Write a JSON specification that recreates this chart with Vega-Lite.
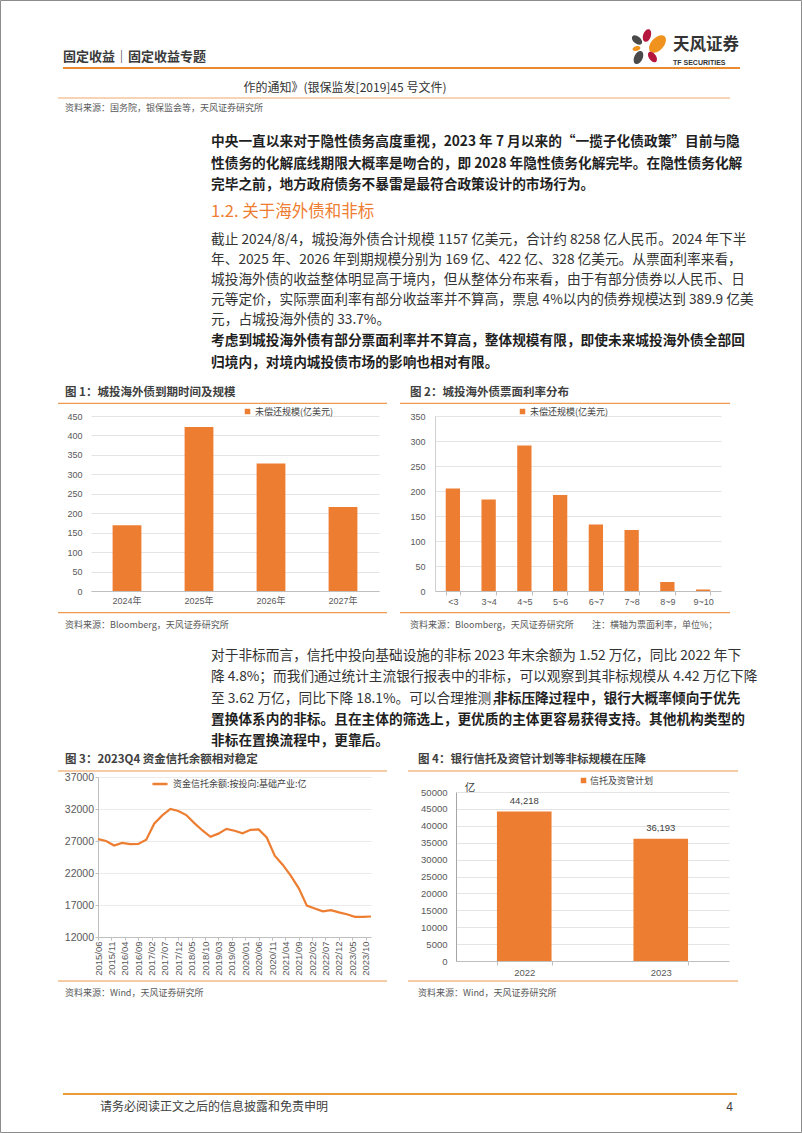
{
  "$schema": "https://vega.github.io/schema/vega-lite/v6.json",
  "background": "white",
  "padding": 0,
  "autosize": {"type": "pad"},
  "columns": 2,
  "align": "none",
  "bounds": "flush",
  "spacing": {"row": 186, "column": 56},
  "resolve": {"scale": {"color": "independent"}, "legend": {"color": "independent"}},
  "config": {
    "view": {"stroke": null},
    "font": "Noto Sans CJK SC",
    "axis": {"labelFont": "Liberation Sans, Noto Sans CJK SC", "labelColor": "#595959", "labelFontSize": 9, "gridColor": "#E4E4E4", "domainColor": "#BFBFBF", "tickColor": "#BFBFBF", "labelOverlap": false},
    "legend": {"labelFont": "Noto Sans CJK SC", "labelColor": "#404040", "labelFontSize": 9, "padding": 0}
  },
  "datasets": {
    "maturity": [
      {"year": "2024年", "amount": 169},
      {"year": "2025年", "amount": 422},
      {"year": "2026年", "amount": 328},
      {"year": "2027年", "amount": 216}
    ],
    "coupon": [
      {"rate": "<3", "amount": 205},
      {"rate": "3~4", "amount": 183},
      {"rate": "4~5", "amount": 291},
      {"rate": "5~6", "amount": 192},
      {"rate": "6~7", "amount": 133},
      {"rate": "7~8", "amount": 122},
      {"rate": "8~9", "amount": 18},
      {"rate": "9~10", "amount": 3}
    ],
    "trust": [
      {"date": "2015-06-01", "value": 27300},
      {"date": "2015-09-01", "value": 27000},
      {"date": "2015-12-01", "value": 26300},
      {"date": "2016-03-01", "value": 26700},
      {"date": "2016-06-01", "value": 26500},
      {"date": "2016-09-01", "value": 26550},
      {"date": "2016-12-01", "value": 27200},
      {"date": "2017-03-01", "value": 29700},
      {"date": "2017-06-01", "value": 31000},
      {"date": "2017-09-01", "value": 32000},
      {"date": "2017-12-01", "value": 31700},
      {"date": "2018-03-01", "value": 31050},
      {"date": "2018-06-01", "value": 29800},
      {"date": "2018-09-01", "value": 28650},
      {"date": "2018-12-01", "value": 27650},
      {"date": "2019-03-01", "value": 28150},
      {"date": "2019-06-01", "value": 28900},
      {"date": "2019-09-01", "value": 28600},
      {"date": "2019-12-01", "value": 28200},
      {"date": "2020-03-01", "value": 28750},
      {"date": "2020-06-01", "value": 28800},
      {"date": "2020-09-01", "value": 27550},
      {"date": "2020-12-01", "value": 24700},
      {"date": "2021-03-01", "value": 23300},
      {"date": "2021-06-01", "value": 21600},
      {"date": "2021-09-01", "value": 19600},
      {"date": "2021-12-01", "value": 16900},
      {"date": "2022-03-01", "value": 16450},
      {"date": "2022-06-01", "value": 16000},
      {"date": "2022-09-01", "value": 16200},
      {"date": "2022-12-01", "value": 15850},
      {"date": "2023-03-01", "value": 15550},
      {"date": "2023-06-01", "value": 15150},
      {"date": "2023-09-01", "value": 15150},
      {"date": "2023-12-01", "value": 15200}
    ],
    "nonstd": [
      {"year": "2022", "amount": 44218},
      {"year": "2023", "amount": 36193}
    ]
  },
  "concat": [
    {
      "width": 288,
      "height": 175,
      "layer": [
        {"data": {"values": [{}]}, "mark": {"type": "rect", "fill": "transparent", "stroke": "#8c8c8c", "strokeWidth": 1}, "encoding": {"x": {"value": -90.5}, "x2": {"value": 710.5}, "y": {"value": -415.5}, "y2": {"value": 716.5}}},
        {"data": {"values": [{}]}, "mark": {"type": "text", "text": "固定收益｜固定收益专题", "align": "left", "baseline": "middle", "fontSize": 13, "fontWeight": "bold", "color": "#3a3a3a"}, "encoding": {"x": {"value": -28}, "y": {"value": -359}}},
        {"data": {"values": [{}]}, "mark": {"type": "rule", "color": "#EC8A2F", "strokeWidth": 2}, "encoding": {"x": {"value": -28}, "x2": {"value": 649}, "y": {"value": -348}}},
        {"data": {"values": [{}]}, "mark": {"type": "point", "shape": "M-1,0A1,0.6,0,1,1,1,0A1,0.6,0,1,1,-1,0Z", "filled": true, "color": "#B5163D", "opacity": 1, "size": 169, "angle": -72}, "encoding": {"x": {"value": 556}, "y": {"value": -380.5}}},
        {"data": {"values": [{}]}, "mark": {"type": "point", "shape": "M-1,0A1,0.6,0,1,1,1,0A1,0.6,0,1,1,-1,0Z", "filled": true, "color": "#4A4A4A", "opacity": 1, "size": 144, "angle": 40}, "encoding": {"x": {"value": 546}, "y": {"value": -376}}},
        {"data": {"values": [{}]}, "mark": {"type": "point", "shape": "M-1,0A1,0.6,0,1,1,1,0A1,0.6,0,1,1,-1,0Z", "filled": true, "color": "#F0931E", "opacity": 1, "size": 441, "angle": -48}, "encoding": {"x": {"value": 566.5}, "y": {"value": -372}}},
        {"data": {"values": [{}]}, "mark": {"type": "point", "shape": "M-1,0A1,0.6,0,1,1,1,0A1,0.6,0,1,1,-1,0Z", "filled": true, "color": "#F0931E", "opacity": 1, "size": 64, "angle": -15}, "encoding": {"x": {"value": 545.5}, "y": {"value": -367.5}}},
        {"data": {"values": [{}]}, "mark": {"type": "point", "shape": "M-1,0A1,0.6,0,1,1,1,0A1,0.6,0,1,1,-1,0Z", "filled": true, "color": "#B5163D", "opacity": 1, "size": 144, "angle": 55}, "encoding": {"x": {"value": 561.5}, "y": {"value": -359}}},
        {"data": {"values": [{}]}, "mark": {"type": "point", "shape": "M-1,0A1,0.6,0,1,1,1,0A1,0.6,0,1,1,-1,0Z", "filled": true, "color": "#4A4A4A", "opacity": 1, "size": 196, "angle": -65}, "encoding": {"x": {"value": 547.5}, "y": {"value": -358.5}}},
        {"data": {"values": [{}]}, "mark": {"type": "text", "text": "天风证券", "align": "left", "baseline": "middle", "fontSize": 16.5, "fontWeight": "bold", "color": "#333333"}, "encoding": {"x": {"value": 582}, "y": {"value": -371}}},
        {"data": {"values": [{}]}, "mark": {"type": "text", "text": "TF SECURITIES", "align": "left", "baseline": "middle", "fontSize": 7, "fontWeight": "bold", "font": "Liberation Sans Narrow, Liberation Sans", "color": "#333333"}, "encoding": {"x": {"value": 582}, "y": {"value": -353.5}}},
        {"data": {"values": [{}]}, "mark": {"type": "text", "text": "作的通知》(银保监发[2019]45 号文件)", "align": "center", "baseline": "middle", "fontSize": 12, "color": "#333333"}, "encoding": {"x": {"value": 254}, "y": {"value": -328}}},
        {"data": {"values": [{}]}, "mark": {"type": "rule", "color": "#F0A868", "strokeWidth": 1}, "encoding": {"x": {"value": -33}, "x2": {"value": 639}, "y": {"value": -318}}},
        {"data": {"values": [{}]}, "mark": {"type": "text", "text": "资料来源：国务院，银保监会等，天风证券研究所", "align": "left", "baseline": "middle", "fontSize": 9, "color": "#595959"}, "encoding": {"x": {"value": -26}, "y": {"value": -308}}},
        {"data": {"values": [{}]}, "mark": {"type": "text", "text": ["中央一直以来对于隐性债务高度重视，2023 年 7 月以来的“一揽子化债政策”目前与隐", "性债务的化解底线期限大概率是吻合的，即 2028 年隐性债务化解完毕。在隐性债务化解", "完毕之前，地方政府债务不暴雷是最符合政策设计的市场行为。"], "lineHeight": 21.5, "align": "left", "baseline": "middle", "fontSize": 13.7, "fontWeight": "bold", "color": "#1f1f1f"}, "encoding": {"x": {"value": 120}, "y": {"value": -274}}},
        {"data": {"values": [{}]}, "mark": {"type": "text", "text": "1.2. 关于海外债和非标", "align": "left", "baseline": "middle", "fontSize": 16.5, "color": "#EE7D31"}, "encoding": {"x": {"value": 120}, "y": {"value": -204}}},
        {"data": {"values": [{}]}, "mark": {"type": "text", "text": ["截止 2024/8/4，城投海外债合计规模 1157 亿美元，合计约 8258 亿人民币。2024 年下半", "年、2025 年、2026 年到期规模分别为 169 亿、422 亿、328 亿美元。从票面利率来看，", "城投海外债的收益整体明显高于境内，但从整体分布来看，由于有部分债券以人民币、日", "元等定价，实际票面利率有部分收益率并不算高，票息 4%以内的债券规模达到 389.9 亿美", "元，占城投海外债的 33.7%。"], "lineHeight": 20, "align": "left", "baseline": "middle", "fontSize": 13.7, "color": "#333333"}, "encoding": {"x": {"value": 120}, "y": {"value": -176}}},
        {"data": {"values": [{}]}, "mark": {"type": "text", "text": ["考虑到城投海外债有部分票面利率并不算高，整体规模有限，即使未来城投海外债全部回", "归境内，对境内城投债市场的影响也相对有限。"], "lineHeight": 22, "align": "left", "baseline": "middle", "fontSize": 13.7, "fontWeight": "bold", "color": "#1f1f1f"}, "encoding": {"x": {"value": 120}, "y": {"value": -75}}},
        {"data": {"values": [{}]}, "mark": {"type": "text", "text": "图 1：城投海外债到期时间及规模", "align": "left", "baseline": "middle", "fontSize": 11.5, "fontWeight": "bold", "color": "#404040"}, "encoding": {"x": {"value": -26}, "y": {"value": -23}}},
        {"data": {"values": [{}]}, "mark": {"type": "rule", "color": "#EE9A50", "strokeWidth": 1.2}, "encoding": {"x": {"value": -33}, "x2": {"value": 296}, "y": {"value": -12.7}}},
        {"data": {"values": [{}]}, "mark": {"type": "rule", "color": "#EE9A50", "strokeWidth": 1.2}, "encoding": {"x": {"value": -33}, "x2": {"value": 296}, "y": {"value": 196.7}}},
        {"data": {"values": [{}]}, "mark": {"type": "text", "text": "资料来源：Bloomberg，天风证券研究所", "align": "left", "baseline": "middle", "fontSize": 9, "color": "#595959"}, "encoding": {"x": {"value": -26}, "y": {"value": 209}}},
        {
          "data": {"name": "maturity"},
          "mark": {"type": "bar"},
          "encoding": {
            "x": {"field": "year", "type": "nominal", "sort": null, "scale": {"paddingInner": 0.6, "paddingOuter": 0.3}, "axis": {"title": null, "labelAngle": 0, "ticks": false, "labelPadding": 5}},
            "y": {"field": "amount", "type": "quantitative", "scale": {"domain": [0, 450], "nice": false}, "axis": {"title": null, "values": [0, 50, 100, 150, 200, 250, 300, 350, 400, 450], "domain": false, "ticks": false, "labelPadding": 9, "grid": true}},
            "color": {"datum": "未偿还规模(亿美元)", "type": "nominal", "scale": {"range": ["#ED7D31"]}, "legend": {"title": null, "orient": "none", "legendX": 152, "legendY": -9, "symbolType": "square", "symbolSize": 30, "labelOffset": 3}}
          }
        }
      ]
    },
    {
      "width": 286,
      "height": 175,
      "layer": [
        {"data": {"values": [{}]}, "mark": {"type": "text", "text": "图 2：城投海外债票面利率分布", "align": "left", "baseline": "middle", "fontSize": 11.5, "fontWeight": "bold", "color": "#404040"}, "encoding": {"x": {"value": -25}, "y": {"value": -23}}},
        {"data": {"values": [{}]}, "mark": {"type": "rule", "color": "#EE9A50", "strokeWidth": 1.2}, "encoding": {"x": {"value": -35}, "x2": {"value": 295}, "y": {"value": -12.7}}},
        {"data": {"values": [{}]}, "mark": {"type": "rule", "color": "#EE9A50", "strokeWidth": 1.2}, "encoding": {"x": {"value": -35}, "x2": {"value": 295}, "y": {"value": 196.7}}},
        {"data": {"values": [{}]}, "mark": {"type": "text", "text": "资料来源：Bloomberg，天风证券研究所", "align": "left", "baseline": "middle", "fontSize": 9, "color": "#595959"}, "encoding": {"x": {"value": -25}, "y": {"value": 209}}},
        {"data": {"values": [{}]}, "mark": {"type": "text", "text": "注：横轴为票面利率，单位%；", "align": "left", "baseline": "middle", "fontSize": 9, "color": "#595959"}, "encoding": {"x": {"value": 157}, "y": {"value": 209}}},
        {
          "data": {"name": "coupon"},
          "mark": {"type": "bar"},
          "encoding": {
            "x": {"field": "rate", "type": "nominal", "sort": null, "scale": {"paddingInner": 0.6, "paddingOuter": 0.3}, "axis": {"title": null, "labelAngle": 0, "ticks": true, "tickBand": "extent", "tickSize": 4, "labelPadding": 2}},
            "y": {"field": "amount", "type": "quantitative", "scale": {"domain": [0, 350], "nice": false}, "axis": {"title": null, "values": [0, 50, 100, 150, 200, 250, 300, 350], "domain": true, "domainColor": "#D0D0D0", "ticks": false, "labelPadding": 10, "grid": true}},
            "color": {"datum": "未偿还规模(亿美元)", "type": "nominal", "scale": {"range": ["#ED7D31"]}, "legend": {"title": null, "orient": "none", "legendX": 83, "legendY": -9, "symbolType": "square", "symbolSize": 30, "labelOffset": 3}}
          }
        }
      ]
    },
    {
      "width": 280,
      "height": 160,
      "layer": [
        {"data": {"values": [{}]}, "mark": {"type": "text", "text": ["对于非标而言，信托中投向基础设施的非标 2023 年末余额为 1.52 万亿，同比 2022 年下", "降 4.8%；而我们通过统计主流银行报表中的非标，可以观察到其非标规模从 4.42 万亿下降"], "lineHeight": 21.3, "align": "left", "baseline": "middle", "fontSize": 13.7, "color": "#333333"}, "encoding": {"x": {"value": 120}, "y": {"value": -121}}},
        {"data": {"values": [{}]}, "mark": {"type": "text", "text": "至 3.62 万亿，同比下降 18.1%。可以合理推测，", "align": "left", "baseline": "middle", "fontSize": 13.7, "color": "#333333"}, "encoding": {"x": {"value": 120}, "y": {"value": -78.4}}},
        {"data": {"values": [{}]}, "mark": {"type": "text", "text": "非标压降过程中，银行大概率倾向于优先", "align": "left", "baseline": "middle", "fontSize": 13.7, "fontWeight": "bold", "color": "#1f1f1f"}, "encoding": {"x": {"value": 403}, "y": {"value": -78.4}}},
        {"data": {"values": [{}]}, "mark": {"type": "text", "text": ["置换体系内的非标。且在主体的筛选上，更优质的主体更容易获得支持。其他机构类型的", "非标在置换流程中，更靠后。"], "lineHeight": 21.3, "align": "left", "baseline": "middle", "fontSize": 13.7, "fontWeight": "bold", "color": "#1f1f1f"}, "encoding": {"x": {"value": 120}, "y": {"value": -57.1}}},
        {"data": {"values": [{}]}, "mark": {"type": "text", "text": "图 3：2023Q4 资金信托余额相对稳定", "align": "left", "baseline": "middle", "fontSize": 11.5, "fontWeight": "bold", "color": "#404040"}, "encoding": {"x": {"value": -26}, "y": {"value": -17}}},
        {"data": {"values": [{}]}, "mark": {"type": "rule", "color": "#EE9A50", "strokeWidth": 1.2}, "encoding": {"x": {"value": -33}, "x2": {"value": 296}, "y": {"value": -6}}},
        {"data": {"values": [{}]}, "mark": {"type": "rule", "color": "#EE9A50", "strokeWidth": 1.2}, "encoding": {"x": {"value": -33}, "x2": {"value": 296}, "y": {"value": 204}}},
        {"data": {"values": [{}]}, "mark": {"type": "text", "text": "资料来源：Wind，天风证券研究所", "align": "left", "baseline": "middle", "fontSize": 9, "color": "#595959"}, "encoding": {"x": {"value": -26}, "y": {"value": 216}}},
        {"data": {"values": [{}]}, "mark": {"type": "rule", "color": "#EC9B34", "strokeWidth": 2}, "encoding": {"x": {"value": -28}, "x2": {"value": 646}, "y": {"value": 317}}},
        {"data": {"values": [{}]}, "mark": {"type": "text", "text": "请务必阅读正文之后的信息披露和免责申明", "align": "left", "baseline": "middle", "fontSize": 12, "color": "#404040"}, "encoding": {"x": {"value": 9}, "y": {"value": 330}}},
        {"data": {"values": [{}]}, "mark": {"type": "text", "text": "4", "align": "right", "baseline": "middle", "fontSize": 12, "color": "#404040", "font": "Liberation Sans"}, "encoding": {"x": {"value": 642}, "y": {"value": 330}}},
        {
          "data": {"name": "trust"},
          "mark": {"type": "line", "strokeWidth": 2.2},
          "encoding": {
            "x": {"field": "date", "type": "temporal", "scale": {"type": "utc", "domain": [{"year": 2015, "month": 6, "date": 1, "utc": true}, {"year": 2023, "month": 12, "date": 1, "utc": true}], "range": [7, 280]}, "axis": {"title": null, "format": "%Y/%m", "labelAngle": -90, "labelOverlap": false, "labelBound": false, "labelFontSize": 9.5, "tickSize": 3, "labelPadding": 1, "grid": false, "values": [{"year": 2015, "month": 6, "date": 1, "utc": true}, {"year": 2015, "month": 11, "date": 1, "utc": true}, {"year": 2016, "month": 4, "date": 1, "utc": true}, {"year": 2016, "month": 9, "date": 1, "utc": true}, {"year": 2017, "month": 2, "date": 1, "utc": true}, {"year": 2017, "month": 7, "date": 1, "utc": true}, {"year": 2017, "month": 12, "date": 1, "utc": true}, {"year": 2018, "month": 5, "date": 1, "utc": true}, {"year": 2018, "month": 10, "date": 1, "utc": true}, {"year": 2019, "month": 3, "date": 1, "utc": true}, {"year": 2019, "month": 8, "date": 1, "utc": true}, {"year": 2020, "month": 1, "date": 1, "utc": true}, {"year": 2020, "month": 6, "date": 1, "utc": true}, {"year": 2020, "month": 11, "date": 1, "utc": true}, {"year": 2021, "month": 4, "date": 1, "utc": true}, {"year": 2021, "month": 9, "date": 1, "utc": true}, {"year": 2022, "month": 2, "date": 1, "utc": true}, {"year": 2022, "month": 7, "date": 1, "utc": true}, {"year": 2022, "month": 12, "date": 1, "utc": true}, {"year": 2023, "month": 5, "date": 1, "utc": true}, {"year": 2023, "month": 10, "date": 1, "utc": true}]}},
            "y": {"field": "value", "type": "quantitative", "scale": {"domain": [12000, 37000], "nice": false, "zero": false}, "axis": {"title": null, "format": "d", "values": [12000, 17000, 22000, 27000, 32000, 37000], "offset": -7, "labelFontSize": 10.5, "tickSize": 3, "labelPadding": 1.5, "grid": true, "gridColor": "#EBEBEB"}},
            "color": {"datum": "资金信托余额:按投向:基础产业:亿", "type": "nominal", "scale": {"range": ["#ED7D31"]}, "legend": {"title": null, "orient": "none", "legendX": 60, "legendY": -2, "symbolType": "stroke", "symbolStrokeWidth": 2.5, "symbolSize": 225, "labelOffset": 4, "labelFontSize": 9}}
          }
        }
      ]
    },
    {
      "width": 294,
      "height": 184,
      "layer": [
        {"data": {"values": [{}]}, "mark": {"type": "text", "text": "图 4：银行信托及资管计划等非标规模在压降", "align": "left", "baseline": "middle", "fontSize": 11.5, "fontWeight": "bold", "color": "#404040"}, "encoding": {"x": {"value": -17}, "y": {"value": -17}}},
        {"data": {"values": [{}]}, "mark": {"type": "rule", "color": "#EE9A50", "strokeWidth": 1.2}, "encoding": {"x": {"value": -27}, "x2": {"value": 303}, "y": {"value": -6}}},
        {"data": {"values": [{}]}, "mark": {"type": "rule", "color": "#EE9A50", "strokeWidth": 1.2}, "encoding": {"x": {"value": -27}, "x2": {"value": 303}, "y": {"value": 204}}},
        {"data": {"values": [{}]}, "mark": {"type": "text", "text": "资料来源：Wind，天风证券研究所", "align": "left", "baseline": "middle", "fontSize": 9, "color": "#595959"}, "encoding": {"x": {"value": -17}, "y": {"value": 216}}},
        {"data": {"values": [{}]}, "mark": {"type": "text", "text": "亿", "align": "center", "baseline": "middle", "fontSize": 10.5, "color": "#404040"}, "encoding": {"x": {"value": 35}, "y": {"value": 11}}},
        {
          "data": {"name": "nonstd"},
          "encoding": {
            "x": {"field": "year", "type": "nominal", "sort": null, "scale": {"range": [21, 294], "paddingInner": 0.6, "paddingOuter": 0.3}, "axis": {"title": null, "labelAngle": 0, "ticks": true, "tickBand": "extent", "tickSize": 4, "labelPadding": 2, "labelFontSize": 9.5}},
            "y": {"field": "amount", "type": "quantitative", "scale": {"domain": [0, 50000], "nice": false, "range": [184, 15]}, "axis": {"title": null, "format": "d", "values": [0, 5000, 10000, 15000, 20000, 25000, 30000, 35000, 40000, 45000, 50000], "offset": -21, "domain": true, "domainColor": "#A6A6A6", "ticks": false, "labelPadding": 9, "grid": true, "labelFontSize": 9.5, "labelOverlap": false}}
          },
          "layer": [
            {
              "mark": {"type": "bar"},
              "encoding": {
                "color": {"datum": "信托及资管计划", "type": "nominal", "scale": {"range": ["#ED7D31"]}, "legend": {"title": null, "orient": "none", "legendX": 144, "legendY": -1, "symbolType": "square", "symbolSize": 30, "labelOffset": 2}}
              }
            },
            {
              "mark": {"type": "text", "dy": -11, "fontSize": 9.5, "font": "Liberation Sans", "color": "#404040"},
              "encoding": {
                "text": {"field": "amount", "type": "quantitative", "format": ","}
              }
            }
          ]
        }
      ]
    }
  ]
}
